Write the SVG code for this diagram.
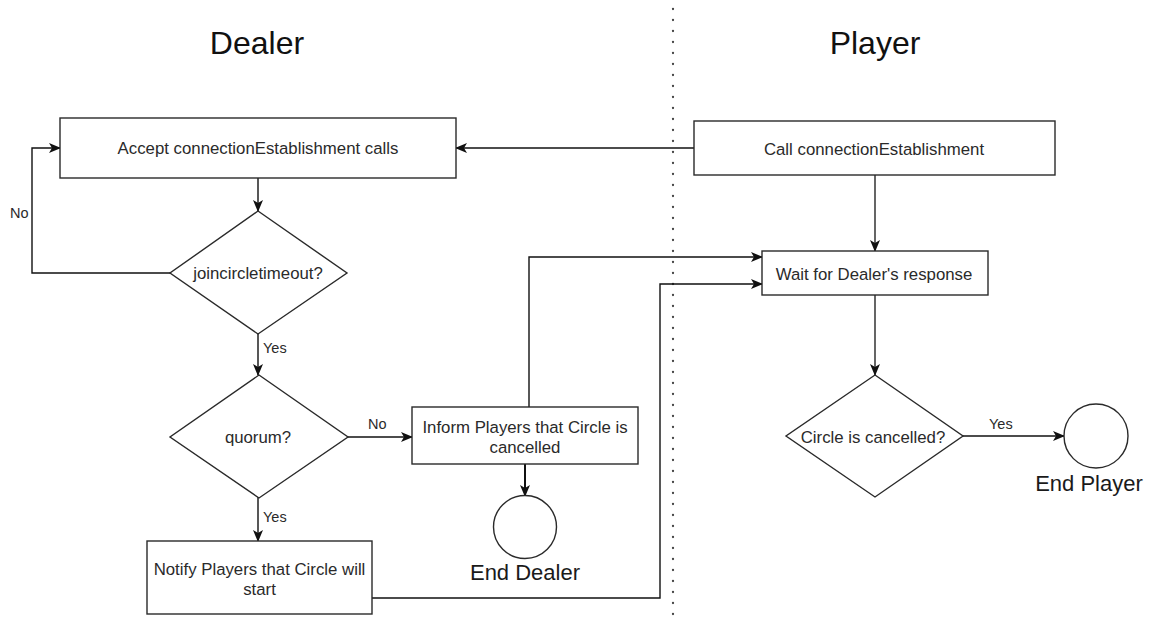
<svg xmlns="http://www.w3.org/2000/svg" width="1150" height="621" viewBox="0 0 1150 621">
  <style>
    .box { fill: #ffffff; stroke: #2a2a2a; stroke-width: 1.4; }
    .txt { font-family: "Liberation Sans", Arial, sans-serif; font-size: 16.8px; fill: #2a2a2a; text-anchor: middle; }
    .lbl { font-family: "Liberation Sans", Arial, sans-serif; font-size: 14.5px; fill: #2a2a2a; }
    .title { font-family: "Liberation Sans", Arial, sans-serif; font-size: 32px; fill: #111; text-anchor: middle; }
    .endtxt { font-family: "Liberation Sans", Arial, sans-serif; font-size: 22px; fill: #1a1a1a; text-anchor: middle; }
    .edge { fill: none; stroke: #111; stroke-width: 1.4; marker-end: url(#arrow); }
    .divider { fill: none; stroke: #444; stroke-width: 2.3; stroke-linecap: round; stroke-dasharray: 0 11; }
  </style>
  <defs>
    <marker id="arrow" viewBox="0 0 12 10" refX="11" refY="5" markerWidth="12" markerHeight="10" markerUnits="userSpaceOnUse" orient="auto">
      <path d="M0,0 L12,5 L0,10 L3,5 z" fill="#111"/>
    </marker>
  </defs>

  <rect width="1150" height="621" fill="#ffffff"/>

  <!-- swimlane titles and separator -->
  <text class="title" x="257" y="54">Dealer</text>
  <text class="title" x="875" y="54">Player</text>
  <line class="divider" x1="673" y1="9" x2="673" y2="620"/>

  <!-- connectors -->
  <g id="connectors">
    <path class="edge" d="M694,148 L456,148"/>
    <path class="edge" d="M258,178 L258,211"/>
    <path class="edge" d="M170,273 L32,273 L32,148 L60,148"/>
    <path class="edge" d="M258,333 L258,375"/>
    <path class="edge" d="M348,437 L412,437"/>
    <path class="edge" d="M258,497 L258,541"/>
    <path class="edge" d="M525,464 L525,496" style="stroke-width:2"/>
    <path class="edge" d="M529,407 L529,257 L762,257"/>
    <path class="edge" d="M372,598 L660,598 L660,284 L762,284"/>
    <path class="edge" d="M875,175 L875,251" style="stroke:#555;stroke-width:1.8"/>
    <path class="edge" d="M875,295 L875,375" style="stroke:#555;stroke-width:1.8"/>
    <path class="edge" d="M963,436 L1064,436"/>
    <text class="lbl" x="10" y="218">No</text>
    <text class="lbl" x="263" y="353">Yes</text>
    <text class="lbl" x="368" y="429">No</text>
    <text class="lbl" x="263" y="522">Yes</text>
    <text class="lbl" x="989" y="429">Yes</text>
  </g>

  <!-- dealer side -->
  <g id="accept">
    <rect class="box" x="60" y="118" width="396" height="60"/>
    <text class="txt" x="258" y="154">Accept connectionEstablishment calls</text>
  </g>
  <g id="joincircletimeout">
    <polygon class="box" points="258,211 347,273 258,334 170,273"/>
    <text class="txt" x="258" y="279">joincircletimeout?</text>
  </g>
  <g id="quorum">
    <polygon class="box" points="259,375 348,437 259,498 170,437"/>
    <text class="txt" x="258" y="443">quorum?</text>
  </g>
  <g id="inform">
    <rect class="box" x="412" y="407" width="226" height="57"/>
    <text class="txt" x="525" y="433">Inform Players that Circle is</text>
    <text class="txt" x="525" y="453">cancelled</text>
  </g>
  <g id="end-dealer">
    <circle class="box" cx="525" cy="527" r="31.5"/>
    <text class="endtxt" x="525" y="580">End Dealer</text>
  </g>
  <g id="notify">
    <rect class="box" x="147" y="541" width="225" height="73"/>
    <text class="txt" x="259.5" y="575">Notify Players that Circle will</text>
    <text class="txt" x="259.5" y="595">start</text>
  </g>

  <!-- player side -->
  <g id="call">
    <rect class="box" x="694" y="121" width="361" height="54"/>
    <text class="txt" x="874" y="155">Call connectionEstablishment</text>
  </g>
  <g id="wait">
    <rect class="box" x="762" y="251" width="226" height="44"/>
    <text class="txt" x="874" y="280">Wait for Dealer's response</text>
  </g>
  <g id="cancelled">
    <polygon class="box" points="875,375 963,436 875,497 786,436"/>
    <text class="txt" x="873" y="443">Circle is cancelled?</text>
  </g>
  <g id="end-player">
    <circle class="box" cx="1096" cy="436" r="32"/>
    <text class="endtxt" x="1089" y="491">End Player</text>
  </g>
</svg>
